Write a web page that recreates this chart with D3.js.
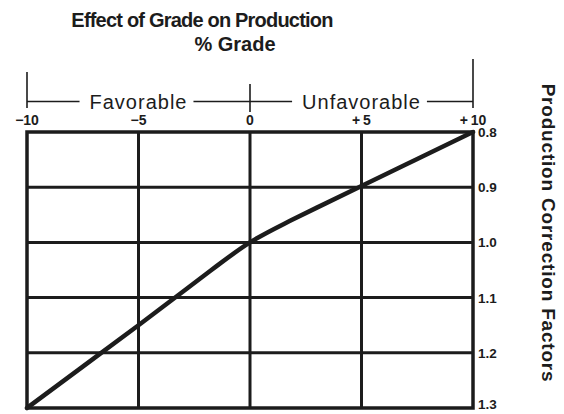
<!DOCTYPE html>
<html>
<head>
<meta charset="utf-8">
<script src="https://cdn.jsdelivr.net/npm/d3@7"></script>
<style>
  html, body { margin: 0; padding: 0; background: #fff; }
  svg { display: block; font-family: "Liberation Sans", Arial, Helvetica, sans-serif; }
</style>
</head>
<body>
<svg id="chart" width="564" height="414"></svg>
<script>
// Percent grade (x) and production correction factor (y)
const grade = [-10, -7.5, -5, -3, -1.5, 0, 1.5, 3, 5, 7.5, 10];
const factor = [1.30, 1.225, 1.150, 1.089, 1.043, 1.0, 0.967, 0.937, 0.898, 0.849, 0.80];

const gradeTicks = [-10, -5, 0, 5, 10];
const gradeTickLabels = ["\u221210", "\u22125", "0", "+\u20095", "+\u200910"];
const factorTicks = [0.8, 0.9, 1.0, 1.1, 1.2, 1.3];
const factorTickLabels = ["0.8", "0.9", "1.0", "1.1", "1.2", "1.3"];
const zoneLabels = ["Favorable", "Unfavorable"];
const zoneCenters = [-5, 5];

const ink = "#1c1c1c";
const svg = d3.select("#chart");

const x = d3.scaleLinear().domain([-10, 10]).range([27, 473]);
const y = d3.scaleLinear().domain([0.8, 1.3]).range([132, 408]);

// Title
svg.append("text")
  .attr("x", 202).attr("y", 27)
  .attr("text-anchor", "middle")
  .attr("font-size", 20).attr("font-weight", "bold")
  .attr("letter-spacing", -0.8)
  .attr("fill", ink)
  .text("Effect of Grade on Production");
svg.append("text")
  .attr("x", 235).attr("y", 51)
  .attr("text-anchor", "middle")
  .attr("font-size", 20).attr("font-weight", "bold")
  .attr("fill", ink)
  .text("% Grade");

// Grid
const grid = svg.append("g").attr("stroke", ink).attr("stroke-width", 3);
grid.selectAll("line.v")
  .data(gradeTicks.slice(1, -1))
  .join("line")
  .attr("class", "v")
  .attr("x1", d => x(d)).attr("x2", d => x(d))
  .attr("y1", y(0.8)).attr("y2", y(1.3));
grid.selectAll("line.h")
  .data(factorTicks.slice(1, -1))
  .join("line")
  .attr("class", "h")
  .attr("x1", x(-10)).attr("x2", x(10))
  .attr("y1", d => y(d)).attr("y2", d => y(d));
svg.append("rect")
  .attr("x", x(-10)).attr("y", y(0.8))
  .attr("width", x(10) - x(-10)).attr("height", y(1.3) - y(0.8))
  .attr("fill", "none").attr("stroke", ink).attr("stroke-width", 3.5);

// Correction-factor curve
const line = d3.line()
  .x((d, i) => x(grade[i]))
  .y(d => y(d))
  .curve(d3.curveNatural);
svg.append("path")
  .datum(factor)
  .attr("d", line)
  .attr("fill", "none")
  .attr("stroke", ink)
  .attr("stroke-width", 4.5)
  .attr("stroke-linecap", "round");

// Top grade axis labels
svg.append("g").selectAll("text")
  .data(gradeTicks)
  .join("text")
  .attr("x", d => x(d))
  .attr("y", 125)
  .attr("text-anchor", "middle")
  .attr("font-size", 14).attr("font-weight", "bold")
  .attr("fill", ink)
  .text((d, i) => gradeTickLabels[i]);

// Right factor axis labels
svg.append("g").selectAll("text")
  .data(factorTicks)
  .join("text")
  .attr("x", x(10) + 5)
  .attr("y", (d, i) => Math.min(y(d) + 5, 409))
  .attr("font-size", 13.5).attr("font-weight", "bold")
  .attr("fill", ink)
  .text((d, i) => factorTickLabels[i]);

// Favorable / Unfavorable bracket
const bracketY = 101.5;
const bracket = svg.append("g").attr("stroke", ink).attr("stroke-width", 1.6);
bracket.append("line").attr("x1", x(-10)).attr("x2", x(-10)).attr("y1", 72).attr("y2", 108);
bracket.append("line").attr("x1", x(0)).attr("x2", x(0)).attr("y1", 84).attr("y2", 112);
bracket.append("line").attr("x1", x(10)).attr("x2", x(10)).attr("y1", 59).attr("y2", 108);

const zoneText = svg.append("g").selectAll("text")
  .data(zoneLabels)
  .join("text")
  .attr("x", (d, i) => x(zoneCenters[i]))
  .attr("y", bracketY + 7)
  .attr("text-anchor", "middle")
  .attr("font-size", 20)
  .attr("letter-spacing", 1)
  .attr("fill", ink)
  .text(d => d);

const edges = [x(-10), x(0), x(10)];
zoneText.each(function(d, i) {
  const w = this.getComputedTextLength();
  const cx = x(zoneCenters[i]);
  bracket.append("line")
    .attr("x1", edges[i]).attr("x2", cx - w / 2 - 10)
    .attr("y1", bracketY).attr("y2", bracketY);
  bracket.append("line")
    .attr("x1", cx + w / 2 + 6).attr("x2", edges[i + 1])
    .attr("y1", bracketY).attr("y2", bracketY);
});

// Right axis title
svg.append("text")
  .attr("transform", "translate(542,233) rotate(90)")
  .attr("text-anchor", "middle")
  .attr("font-size", 19).attr("font-weight", "bold")
  .attr("letter-spacing", 0.8)
  .attr("fill", ink)
  .text("Production Correction Factors");
</script>
</body>
</html>
